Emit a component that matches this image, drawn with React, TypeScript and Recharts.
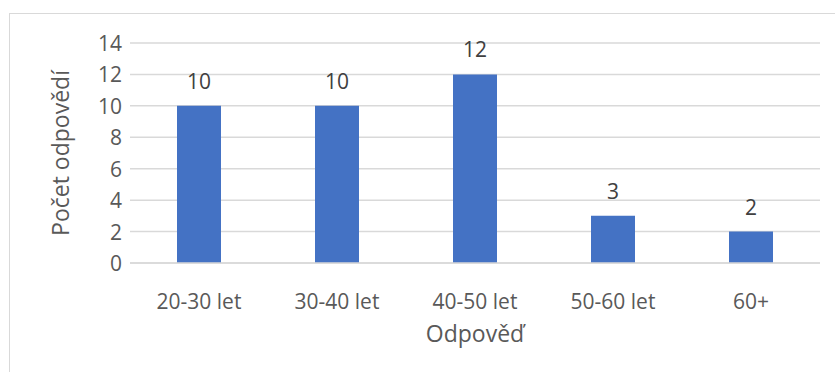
import React from "react";
import { BarChart, Bar, XAxis, YAxis, CartesianGrid, LabelList } from "recharts";

const categories = ["20-30 let", "30-40 let", "40-50 let", "50-60 let", "60+"];
const responses = [10, 10, 12, 3, 2];
const yTicks = [0, 2, 4, 6, 8, 10, 12, 14];

const data = categories.map((name, i) => ({ name, value: responses[i] }));

const FONT = "'Open Sans', sans-serif";
const TEXT = "#595959";
const GRID = "#d9d9d9";
const SIZE = 21;

const XTick = (props: any) => {
  const { x, y, payload } = props;
  return (
    <text x={x} y={y + 30} textAnchor="middle" dominantBaseline="central" fill={TEXT} fontSize={SIZE} fontFamily={FONT}>
      {payload.value}
    </text>
  );
};

const YTick = (props: any) => {
  const { x, y, payload } = props;
  return (
    <text x={x - 2} y={y} textAnchor="end" dominantBaseline="central" fill={TEXT} fontSize={SIZE} fontFamily={FONT}>
      {payload.value}
    </text>
  );
};

const ValueLabel = (props: any) => {
  const { x, y, width, value } = props;
  return (
    <text x={x + width / 2} y={y - 25} textAnchor="middle" dominantBaseline="central" fill="#404040" fontSize={SIZE} fontFamily={FONT}>
      {value}
    </text>
  );
};

const XTitle = (props: any) => {
  const { viewBox } = props;
  return (
    <text x={viewBox.x + viewBox.width / 2} y={viewBox.y + 70} textAnchor="middle" dominantBaseline="central" fill={TEXT} fontSize={23} fontFamily={FONT}>
      Odpověď
    </text>
  );
};

const YTitle = (props: any) => {
  const { viewBox } = props;
  const cx = 60;
  const cy = viewBox.y + viewBox.height / 2;
  return (
    <text x={cx} y={cy} transform={`rotate(-90 ${cx} ${cy})`} textAnchor="middle" dominantBaseline="central" fill={TEXT} fontSize={23} fontFamily={FONT}>
      Počet odpovědí
    </text>
  );
};

export default function App() {
  return (
    <div style={{ position: "absolute", left: 0, top: 0, width: 835, height: 372, overflow: "hidden", background: "#fff" }}>
      <div style={{ position: "absolute", left: 9, top: 13, width: 900, height: 500, border: `1px solid ${GRID}` }} />
      <div style={{ position: "absolute", left: 0, top: 0 }}>
        <BarChart width={835} height={372} data={data} margin={{ top: 43, right: 15, left: 0, bottom: 0 }} barSize={44}>
          <CartesianGrid vertical={false} stroke={GRID} strokeWidth={1.5} />
          <XAxis
            dataKey="name"
            axisLine={{ stroke: GRID, strokeWidth: 1.5 }}
            tickLine={false}
            height={109}
            tick={<XTick />}
            interval={0}
            label={<XTitle />}
          />
          <YAxis
            domain={[0, 14]}
            ticks={yTicks}
            width={130}
            axisLine={false}
            tickLine={false}
            tick={<YTick />}
            tickMargin={0}
            label={<YTitle />}
          />
          <Bar dataKey="value" fill="#4472C4" isAnimationActive={false}>
            <LabelList dataKey="value" content={<ValueLabel />} />
          </Bar>
        </BarChart>
      </div>
    </div>
  );
}
